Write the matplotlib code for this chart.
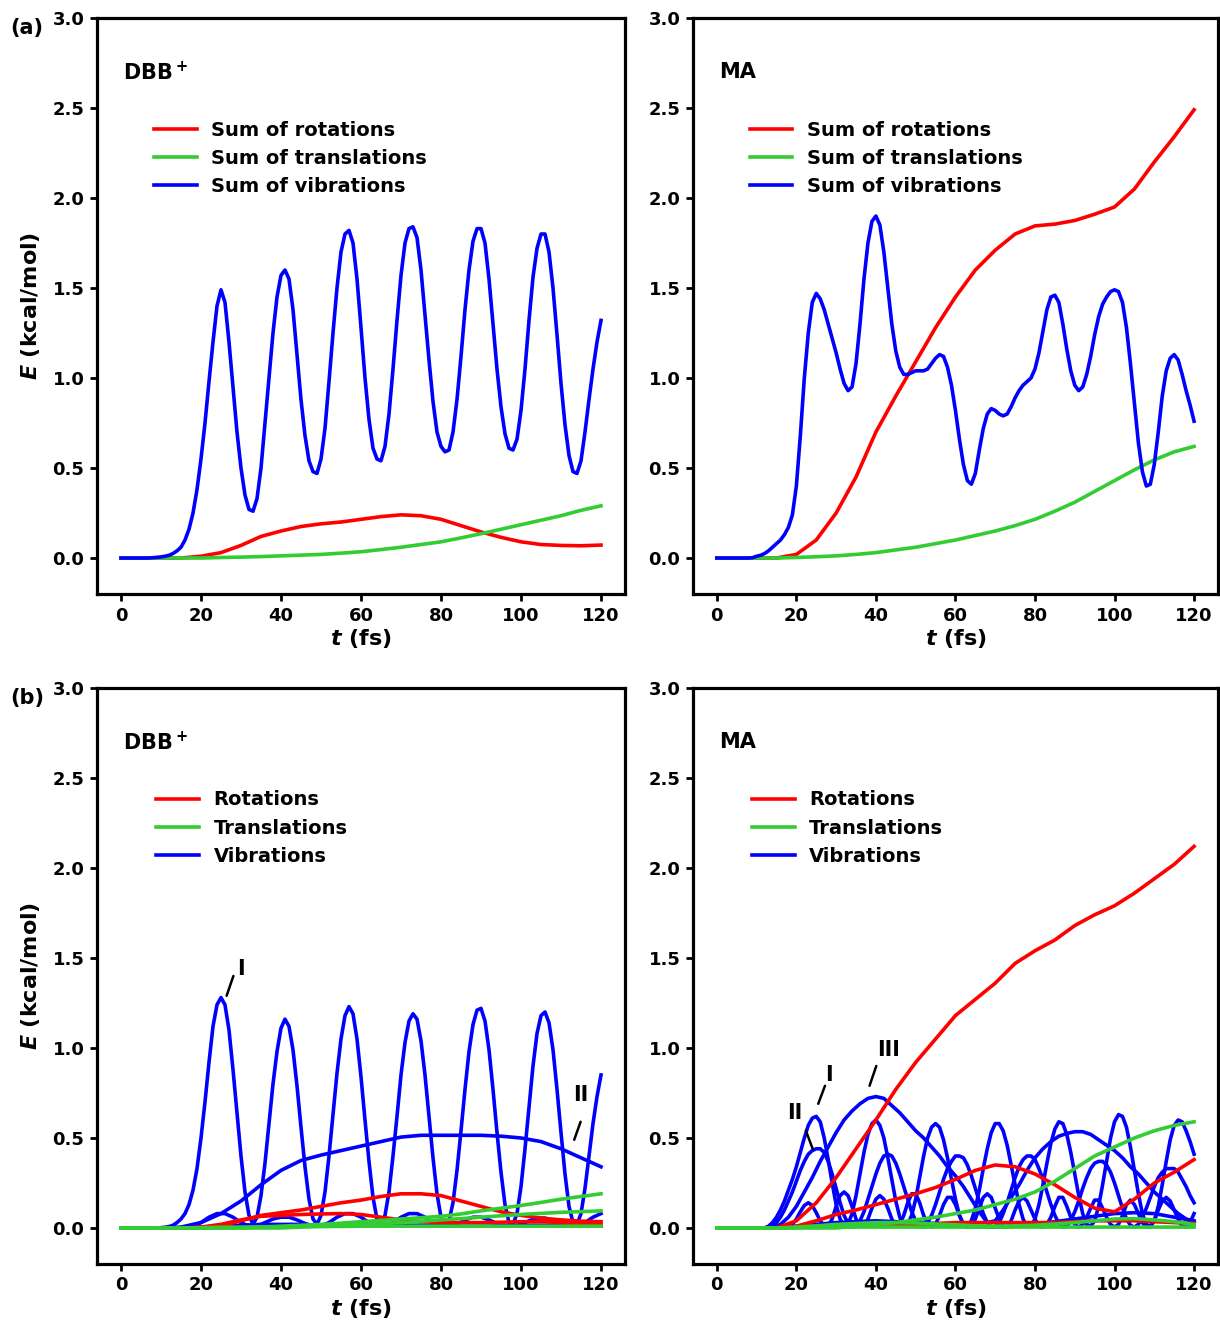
import numpy as np
import matplotlib
matplotlib.use("Agg")
import matplotlib.pyplot as plt
from matplotlib.ticker import FormatStrFormatter

plt.rcParams['font.family'] = ['DejaVu Sans']
plt.rcParams['font.weight'] = 'bold'
plt.rcParams['axes.labelweight'] = 'bold'
plt.rcParams['mathtext.fontset'] = 'custom'
plt.rcParams['mathtext.it'] = 'DejaVu Sans:bold:italic'
plt.rcParams['mathtext.rm'] = 'DejaVu Sans:bold'
plt.rcParams['mathtext.bf'] = 'DejaVu Sans:bold'

RED = '#ff0000'
GREEN = '#33cc33'
BLUE = '#0000ff'

# time grids (fs)
t1 = np.arange(0, 121, 1)
t2 = np.arange(0, 121, 2)
t5 = np.arange(0, 121, 5)

# ---------- (a) DBB+ sums ----------
dbb_sum_rot = [0, 0, 0, 0, 0.01, 0.03, 0.07, 0.12, 0.15, 0.175, 0.19, 0.2, 0.215,
               0.23, 0.24, 0.235, 0.215, 0.18, 0.145, 0.115, 0.09, 0.075, 0.07, 0.068, 0.072]
dbb_sum_trans = [0, 0, 0, 0, 0, 0.003, 0.005, 0.008, 0.012, 0.016, 0.02, 0.027, 0.035,
                 0.047, 0.06, 0.075, 0.09, 0.112, 0.135, 0.16, 0.185, 0.21, 0.235, 0.265, 0.29]
dbb_sum_vib = [0, 0, 0, 0, 0, 0, 0, 0, 0.002, 0.004,
               0.006, 0.01, 0.015, 0.025, 0.04, 0.06, 0.1, 0.16, 0.25, 0.38,
               0.55, 0.75, 0.98, 1.2, 1.4, 1.49, 1.42, 1.2, 0.95, 0.7,
               0.5, 0.35, 0.27, 0.26, 0.33, 0.5, 0.75, 1.0, 1.25, 1.45,
               1.57, 1.6, 1.55, 1.38, 1.13, 0.88, 0.68, 0.54, 0.48, 0.47,
               0.55, 0.72, 0.98, 1.25, 1.5, 1.7, 1.8, 1.82, 1.75, 1.55,
               1.28, 1.0, 0.77, 0.61, 0.55, 0.54, 0.62, 0.8, 1.05, 1.32,
               1.57, 1.75, 1.83, 1.84, 1.78, 1.6, 1.35, 1.1, 0.87, 0.7,
               0.62, 0.59, 0.6, 0.7, 0.88, 1.12, 1.38, 1.6, 1.76, 1.83,
               1.83, 1.75, 1.55, 1.3, 1.05, 0.84, 0.69, 0.61, 0.6, 0.66,
               0.82, 1.05, 1.32, 1.56, 1.72, 1.8, 1.8, 1.7, 1.5, 1.24,
               0.97, 0.74, 0.57, 0.48, 0.47, 0.54, 0.7, 0.88, 1.05, 1.2,
               1.32]

# ---------- (a) MA sums ----------
ma_sum_rot = [0, 0, 0, 0, 0.02, 0.1, 0.25, 0.45, 0.7, 0.9, 1.09, 1.28, 1.45,
              1.6, 1.71, 1.8, 1.845, 1.855, 1.875, 1.91, 1.95, 2.05, 2.2, 2.34, 2.49]
ma_sum_trans = [0, 0, 0, 0, 0.003, 0.007, 0.012, 0.02, 0.03, 0.045, 0.06, 0.08, 0.1,
                0.125, 0.15, 0.18, 0.215, 0.26, 0.31, 0.37, 0.43, 0.49, 0.545, 0.59, 0.62]
ma_sum_vib = [0, 0, 0, 0, 0, 0, 0, 0, 0, 0.002,
              0.01, 0.015, 0.025, 0.04, 0.06, 0.08, 0.1, 0.13, 0.17, 0.24,
              0.4, 0.68, 1.0, 1.25, 1.42, 1.47, 1.44, 1.38, 1.3, 1.22,
              1.14, 1.05, 0.97, 0.93, 0.95, 1.08, 1.3, 1.55, 1.75, 1.87,
              1.9, 1.85, 1.7, 1.5, 1.3, 1.15, 1.06, 1.02, 1.02, 1.03,
              1.04, 1.04, 1.04, 1.05, 1.08, 1.11, 1.13, 1.12, 1.06, 0.96,
              0.82, 0.66, 0.52, 0.43, 0.41, 0.47, 0.6, 0.72, 0.8, 0.83,
              0.82, 0.8, 0.79, 0.8, 0.84, 0.89, 0.93, 0.96, 0.98, 1.0,
              1.05, 1.14, 1.26, 1.38, 1.45, 1.46, 1.42, 1.3, 1.16, 1.04,
              0.96, 0.93, 0.95, 1.02, 1.12, 1.24, 1.34, 1.41, 1.45, 1.48,
              1.49, 1.48, 1.42, 1.28, 1.08, 0.86, 0.64, 0.48, 0.4, 0.41,
              0.52, 0.7, 0.9, 1.04, 1.11, 1.13, 1.1, 1.02, 0.93, 0.85,
              0.76]

# ---------- (b) DBB+ individual modes ----------
dbb_rot = [
    [0, 0, 0, 0, 0, 0.01, 0.04, 0.07, 0.085, 0.1, 0.12, 0.14, 0.155, 0.175, 0.19,
     0.19, 0.18, 0.15, 0.12, 0.09, 0.07, 0.055, 0.045, 0.038, 0.035],
    [0, 0, 0, 0, 0.005, 0.02, 0.045, 0.065, 0.07, 0.075, 0.078, 0.08, 0.075, 0.06,
     0.045, 0.035, 0.03, 0.03, 0.03, 0.032, 0.035, 0.035, 0.03, 0.025, 0.02],
]
dbb_trans = [
    [0, 0, 0, 0, 0, 0, 0, 0.005, 0.01, 0.015, 0.02, 0.027, 0.035, 0.042, 0.05,
     0.057, 0.065, 0.078, 0.095, 0.11, 0.125, 0.142, 0.16, 0.175, 0.19],
    [0, 0, 0, 0, 0, 0, 0, 0, 0, 0.005, 0.01, 0.015, 0.02, 0.025, 0.03, 0.037,
     0.045, 0.052, 0.06, 0.068, 0.075, 0.081, 0.087, 0.091, 0.095],
    [0, 0, 0, 0, 0.002, 0.004, 0.005, 0.006, 0.007, 0.008, 0.008, 0.009, 0.01,
     0.01, 0.01, 0.01, 0.01, 0.01, 0.01, 0.01, 0.01, 0.01, 0.01, 0.01, 0.01],
]
dbb_vib_I = [0, 0, 0, 0, 0, 0, 0, 0, 0, 0,
             0.002, 0.004, 0.008, 0.015, 0.03, 0.05, 0.08, 0.13, 0.21, 0.33,
             0.5, 0.7, 0.92, 1.12, 1.24, 1.28, 1.24, 1.1, 0.88, 0.64,
             0.4, 0.2, 0.07, 0.02, 0.06, 0.18, 0.36, 0.58, 0.8, 0.98,
             1.11, 1.16, 1.12, 0.99, 0.79, 0.56, 0.34, 0.16, 0.05, 0.02,
             0.07, 0.2, 0.4, 0.63, 0.86, 1.05, 1.18, 1.23, 1.19, 1.05,
             0.84, 0.6, 0.37, 0.17, 0.05, 0.02, 0.07, 0.2, 0.4, 0.62,
             0.85, 1.03, 1.15, 1.19, 1.16, 1.04, 0.85, 0.62, 0.39, 0.19,
             0.06, 0.02, 0.04, 0.14, 0.32, 0.54, 0.77, 0.98, 1.13, 1.21,
             1.22, 1.15, 0.99, 0.77, 0.53, 0.31, 0.13, 0.03, 0.02, 0.08,
             0.23, 0.44, 0.67, 0.9, 1.08, 1.18, 1.2, 1.14, 0.99, 0.77,
             0.53, 0.3, 0.12, 0.03, 0.02, 0.08, 0.22, 0.4, 0.58, 0.73,
             0.85]
dbb_vib_II = [0, 0, 0, 0.005, 0.03, 0.08, 0.15, 0.24, 0.32, 0.375, 0.405, 0.43, 0.455,
              0.48, 0.505, 0.515, 0.515, 0.515, 0.515, 0.51, 0.5, 0.48, 0.44, 0.39, 0.34]
dbb_vib_small = [0, 0, 0, 0, 0, 0, 0, 0,
                 0.003, 0.01, 0.03, 0.06, 0.08, 0.08, 0.06, 0.03, 0.01, 0.01,
                 0.03, 0.05, 0.06, 0.06, 0.045, 0.025, 0.01, 0.01, 0.03, 0.06,
                 0.08, 0.08, 0.06, 0.03, 0.01, 0.01, 0.03, 0.06, 0.08, 0.08,
                 0.06, 0.03, 0.01, 0.01, 0.02, 0.045, 0.06, 0.06, 0.045, 0.025,
                 0.01, 0.01, 0.02, 0.04, 0.055, 0.055, 0.04, 0.02, 0.01, 0.01,
                 0.03, 0.06, 0.08]
dbb_vib_flat = [0, 0, 0, 0, 0.005, 0.01, 0.015, 0.02, 0.02, 0.02, 0.015, 0.01, 0.01,
                0.012, 0.015, 0.015, 0.012, 0.01, 0.01, 0.012, 0.015, 0.015, 0.012, 0.01, 0.01]

# ---------- (b) MA individual modes ----------
ma_rot = [
    [0, 0, 0, 0, 0.04, 0.14, 0.28, 0.44, 0.6, 0.77, 0.92, 1.05, 1.18, 1.27, 1.36,
     1.47, 1.54, 1.6, 1.68, 1.74, 1.79, 1.86, 1.94, 2.02, 2.12],
    [0, 0, 0, 0, 0.01, 0.04, 0.075, 0.1, 0.13, 0.16, 0.19, 0.225, 0.27, 0.32, 0.35,
     0.34, 0.3, 0.24, 0.17, 0.11, 0.09, 0.16, 0.25, 0.31, 0.38],
    [0, 0, 0, 0, 0.005, 0.01, 0.015, 0.02, 0.02, 0.02, 0.02, 0.025, 0.03, 0.03, 0.03,
     0.03, 0.03, 0.03, 0.035, 0.04, 0.04, 0.04, 0.035, 0.03, 0.025],
]
ma_trans = [
    [0, 0, 0, 0, 0, 0, 0, 0.01, 0.02, 0.03, 0.045, 0.06, 0.08, 0.1, 0.13, 0.16,
     0.2, 0.26, 0.33, 0.4, 0.45, 0.5, 0.54, 0.57, 0.59],
    [0, 0, 0, 0, 0.005, 0.012, 0.02, 0.025, 0.03, 0.03, 0.028, 0.022, 0.018, 0.012,
     0.01, 0.012, 0.015, 0.022, 0.03, 0.04, 0.05, 0.052, 0.045, 0.035, 0.02],
    [0, 0, 0, 0, 0.002, 0.004, 0.005, 0.005, 0.005, 0.005, 0.005, 0.005, 0.005,
     0.005, 0.005, 0.005, 0.005, 0.005, 0.005, 0.005, 0.005, 0.005, 0.005, 0.005, 0.005],
]
ma_vib_II = [0, 0, 0, 0, 0, 0, 0, 0, 0, 0,
             0, 0, 0, 0.01, 0.03, 0.06, 0.1, 0.15, 0.21, 0.27,
             0.34, 0.42, 0.5, 0.57, 0.61, 0.62, 0.59, 0.5, 0.38, 0.25,
             0.13, 0.05, 0.01, 0.02, 0.08, 0.18, 0.3, 0.42, 0.52, 0.58,
             0.6, 0.57, 0.5, 0.39, 0.27, 0.15, 0.06, 0.01, 0.02, 0.07,
             0.16, 0.28, 0.4, 0.5, 0.56, 0.58, 0.56, 0.49, 0.39, 0.27,
             0.16, 0.07, 0.02, 0.01, 0.04, 0.11, 0.21, 0.33, 0.44, 0.53,
             0.58, 0.58, 0.54, 0.46, 0.35, 0.24, 0.13, 0.05, 0.01, 0.01,
             0.05, 0.13, 0.24, 0.36, 0.47, 0.55, 0.59, 0.58, 0.52, 0.42,
             0.3, 0.18, 0.08, 0.02, 0.01, 0.04, 0.12, 0.24, 0.37, 0.5,
             0.59, 0.63, 0.62, 0.56, 0.45, 0.32, 0.19, 0.08, 0.02, 0.01,
             0.04, 0.12, 0.24, 0.37, 0.49, 0.57, 0.6, 0.59, 0.54, 0.48,
             0.41]
ma_vib_I = [0, 0, 0, 0, 0, 0, 0, 0, 0, 0,
            0, 0, 0, 0.005, 0.015, 0.03, 0.06, 0.1, 0.15, 0.2,
            0.26, 0.32, 0.37, 0.41, 0.43, 0.44, 0.44, 0.42, 0.37, 0.3,
            0.22, 0.14, 0.07, 0.025, 0.005, 0.01, 0.04, 0.09, 0.16, 0.23,
            0.3, 0.36, 0.4, 0.41, 0.4, 0.36, 0.3, 0.23, 0.16, 0.09,
            0.04, 0.01, 0.005, 0.03, 0.07, 0.13, 0.2, 0.27, 0.33, 0.37,
            0.4, 0.4, 0.39, 0.35, 0.29, 0.22, 0.15, 0.08, 0.03, 0.005,
            0.005, 0.03, 0.08, 0.14, 0.21, 0.28, 0.34, 0.38, 0.4, 0.4,
            0.38, 0.33, 0.27, 0.2, 0.13, 0.07, 0.025, 0.005, 0.01, 0.04,
            0.09, 0.15, 0.22, 0.28, 0.33, 0.36, 0.37, 0.37, 0.35, 0.31,
            0.25, 0.18, 0.11, 0.05, 0.015, 0.005, 0.02, 0.06, 0.11, 0.17,
            0.23, 0.28, 0.31, 0.33, 0.33, 0.33, 0.31, 0.27, 0.23, 0.18,
            0.14]
ma_vib_III = [0, 0, 0, 0, 0, 0, 0, 0,
              0.02, 0.06, 0.12, 0.2, 0.28, 0.37, 0.45, 0.53, 0.6, 0.65,
              0.69, 0.72, 0.73, 0.72, 0.68, 0.64, 0.59, 0.54, 0.5, 0.45,
              0.4, 0.34, 0.29, 0.23, 0.16, 0.09, 0.03, 0.04, 0.1, 0.17,
              0.24, 0.32, 0.39, 0.44, 0.48, 0.51, 0.525, 0.535, 0.535, 0.52,
              0.49, 0.46, 0.43, 0.39, 0.34, 0.3, 0.25, 0.2, 0.16, 0.12,
              0.08, 0.05, 0.03]
ma_vib_fast = [0, 0, 0, 0, 0, 0, 0, 0, 0, 0,
               0, 0, 0, 0, 0, 0, 0, 0.005, 0.01, 0.02,
               0.05, 0.09, 0.125, 0.14, 0.125, 0.085, 0.04, 0.01, 0.01, 0.05,
               0.12, 0.18, 0.2, 0.18, 0.12, 0.05, 0.01, 0.01, 0.05, 0.11,
               0.16, 0.18, 0.16, 0.11, 0.05, 0.01, 0.02, 0.07, 0.14, 0.19,
               0.19, 0.14, 0.07, 0.02, 0.005, 0.02, 0.07, 0.13, 0.17, 0.17,
               0.13, 0.07, 0.02, 0.005, 0.01, 0.05, 0.11, 0.17, 0.19, 0.17,
               0.11, 0.05, 0.01, 0.005, 0.04, 0.1, 0.15, 0.17, 0.15, 0.1,
               0.05, 0.01, 0.005, 0.02, 0.06, 0.12, 0.17, 0.17, 0.12, 0.06,
               0.02, 0.005, 0.02, 0.06, 0.11, 0.155, 0.155, 0.11, 0.06, 0.02,
               0.005, 0.02, 0.07, 0.13, 0.155, 0.13, 0.08, 0.03, 0.005, 0.01,
               0.04, 0.1, 0.15, 0.17, 0.15, 0.1, 0.05, 0.01, 0.005, 0.03,
               0.08]
ma_vib_low = [0, 0, 0, 0, 0.01, 0.02, 0.03, 0.035, 0.04, 0.035, 0.03, 0.025, 0.015,
              0.008, 0.005, 0.01, 0.02, 0.035, 0.05, 0.065, 0.08, 0.085, 0.08, 0.06, 0.04]

LW = 2.6


def style(ax, ylabel=True):
    ax.set_xlim(-6, 126)
    ax.set_ylim(-0.2, 3.0)
    ax.set_xticks(np.arange(0, 121, 20))
    ax.set_yticks(np.arange(0, 3.01, 0.5))
    ax.yaxis.set_major_formatter(FormatStrFormatter('%.1f'))
    for s in ax.spines.values():
        s.set_linewidth(2.3)
    ax.tick_params(width=2, length=5, labelsize=13, pad=4)
    ax.set_xlabel('$t$ (fs)', fontsize=16, labelpad=2)
    if ylabel:
        ax.set_ylabel('$E$ (kcal/mol)', fontsize=16, labelpad=8)


def add_legend(ax, handles, labels, x):
    ax.legend(handles, labels, loc='upper left', bbox_to_anchor=(x, 0.822),
              frameon=False, fontsize=14, handlelength=2.2, handletextpad=0.75,
              labelspacing=0.47, borderpad=0, borderaxespad=0)


def mark(ax, label, pos, start, end):
    ax.text(pos[0], pos[1], label, fontsize=15, ha='center', va='center')
    ax.annotate('', xy=end, xytext=start,
                arrowprops=dict(arrowstyle='-', lw=1.8, color='black', shrinkA=0, shrinkB=0))


fig = plt.figure(figsize=(12.2, 13.23), dpi=100)
ax_tl = fig.add_axes([0.0795, 0.551, 0.4328, 0.4354])
ax_tr = fig.add_axes([0.568, 0.551, 0.4303, 0.4354])
ax_bl = fig.add_axes([0.0795, 0.0446, 0.4328, 0.4354])
ax_br = fig.add_axes([0.568, 0.0446, 0.4303, 0.4354])

# (a) left
r, = ax_tl.plot(t5, dbb_sum_rot, color=RED, lw=LW)
g, = ax_tl.plot(t5, dbb_sum_trans, color=GREEN, lw=LW)
b, = ax_tl.plot(t1, dbb_sum_vib, color=BLUE, lw=LW)
style(ax_tl)
ax_tl.text(0.5, 2.7, 'DBB$^+$', fontsize=15, va='center')
add_legend(ax_tl, [r, g, b], ['Sum of rotations', 'Sum of translations', 'Sum of vibrations'], 0.108)

# (a) right
r, = ax_tr.plot(t5, ma_sum_rot, color=RED, lw=LW)
g, = ax_tr.plot(t5, ma_sum_trans, color=GREEN, lw=LW)
b, = ax_tr.plot(t1, ma_sum_vib, color=BLUE, lw=LW)
style(ax_tr, ylabel=False)
ax_tr.text(0.5, 2.7, 'MA', fontsize=15, va='center')
add_legend(ax_tr, [r, g, b], ['Sum of rotations', 'Sum of translations', 'Sum of vibrations'], 0.108)

# (b) left
ax_bl.plot(t5, dbb_vib_flat, color=BLUE, lw=LW)
ax_bl.plot(t2, dbb_vib_small, color=BLUE, lw=LW)
ax_bl.plot(t5, dbb_vib_II, color=BLUE, lw=LW)
b, = ax_bl.plot(t1, dbb_vib_I, color=BLUE, lw=LW)
for i, y in enumerate(dbb_rot):
    line, = ax_bl.plot(t5, y, color=RED, lw=LW)
    if i == 0:
        r = line
for i, y in enumerate(dbb_trans):
    line, = ax_bl.plot(t5, y, color=GREEN, lw=LW)
    if i == 0:
        g = line
style(ax_bl)
ax_bl.text(0.5, 2.7, 'DBB$^+$', fontsize=15, va='center')
add_legend(ax_bl, [r, g, b], ['Rotations', 'Translations', 'Vibrations'], 0.112)
mark(ax_bl, 'I', (30, 1.44), (26.4, 1.29), (28.1, 1.40))
mark(ax_bl, 'II', (115, 0.74), (113.3, 0.49), (114.9, 0.59))

# (b) right
ax_br.plot(t5, ma_vib_low, color=BLUE, lw=LW)
ax_br.plot(t1, ma_vib_fast, color=BLUE, lw=LW)
ax_br.plot(t2, ma_vib_III, color=BLUE, lw=LW)
ax_br.plot(t1, ma_vib_I, color=BLUE, lw=LW)
b, = ax_br.plot(t1, ma_vib_II, color=BLUE, lw=LW)
for i, y in enumerate(ma_rot):
    line, = ax_br.plot(t5, y, color=RED, lw=LW)
    if i == 0:
        r = line
for i, y in enumerate(ma_trans):
    line, = ax_br.plot(t5, y, color=GREEN, lw=LW)
    if i == 0:
        g = line
style(ax_br, ylabel=False)
ax_br.text(0.5, 2.7, 'MA', fontsize=15, va='center')
add_legend(ax_br, [r, g, b], ['Rotations', 'Translations', 'Vibrations'], 0.112)
mark(ax_br, 'II', (19.5, 0.64), (22.4, 0.54), (24.1, 0.44))
mark(ax_br, 'I', (28.3, 0.85), (25.5, 0.69), (27.2, 0.79))
mark(ax_br, 'III', (43.3, 0.99), (38.4, 0.79), (40.1, 0.90))

fig.text(10 / 1220, 1 - 28 / 1323, '(a)', fontsize=15, va='center', ha='left')
fig.text(10 / 1220, 1 - 698 / 1323, '(b)', fontsize=15, va='center', ha='left')

fig.savefig('out.png', dpi=100)
